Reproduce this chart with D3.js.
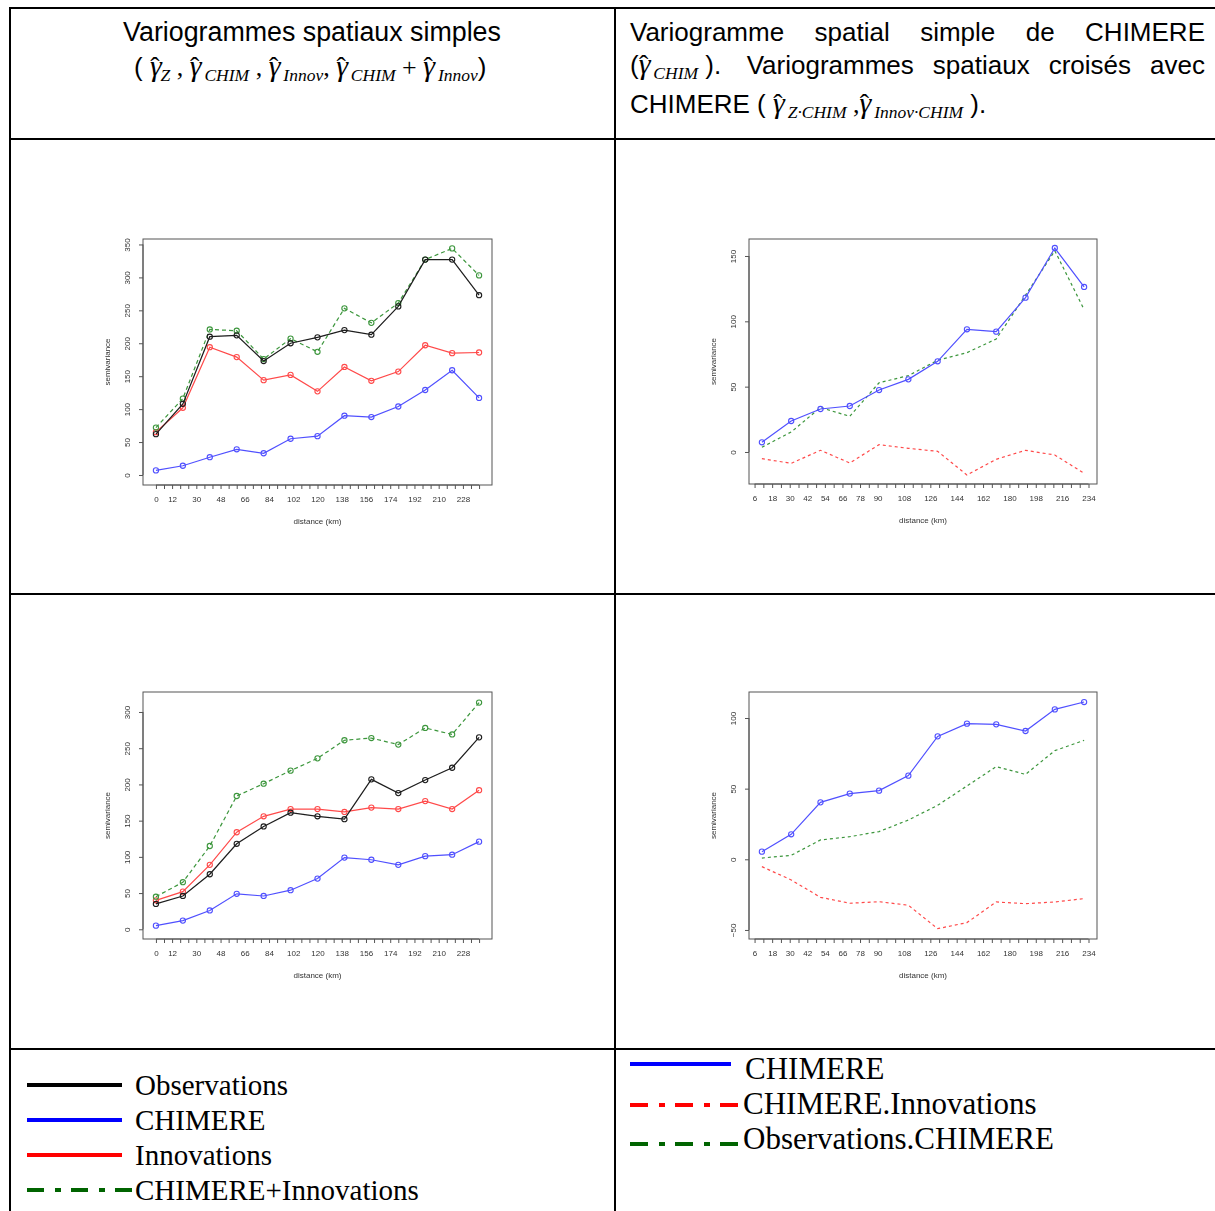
<!DOCTYPE html>
<html>
<head>
<meta charset="utf-8">
<script src="https://cdn.jsdelivr.net/npm/d3@7"></script>
<style>
  body { margin: 0; background: #fff; }
  svg { display: block; }
</style>
</head>
<body>
<svg id="page" width="1215" height="1211"></svg>
<script>
// ---- lag distances (km) ----
const lagsSimple = [0, 20, 40, 60, 80, 100, 120, 140, 160, 180, 200, 220, 240];
const lagsCross  = [11, 31, 51, 71, 91, 111, 131, 151, 171, 191, 211, 231];

// ---- panel A: simple variograms (first period) ----
const obsA   = [62, 108, 210, 212, 173, 200, 209, 220, 213, 256, 327, 327, 273];
const chimA  = [7, 14, 27, 39, 33, 55, 59, 90, 88, 104, 129, 159, 117];
const innovA = [65, 102, 194, 179, 144, 152, 127, 164, 143, 157, 197, 185, 186];
const sumA   = [72, 116, 221, 219, 176, 207, 187, 253, 231, 261, 327, 344, 303];

// ---- panel B: CHIMERE variogram and cross variograms (first period) ----
const chimB       = [7.4, 23.7, 32.9, 35.2, 47.4, 55.6, 69.4, 93.9, 92.1, 118.1, 156.1, 126.3];
const chimInnovB  = [-5.1, -8.7, 1.3, -8.4, 5.6, 2.8, 0.5, -17.6, -5.6, 1.3, -2.3, -16.3];
const obsChimB    = [3.6, 15.3, 34, 27.3, 53, 58.4, 70.2, 76, 86.5, 120, 154, 109];

// ---- panel C: simple variograms (second period) ----
const obsC   = [35, 46, 76, 118, 142, 161, 156, 152, 207, 188, 206, 223, 265];
const chimC  = [5, 12, 26, 49, 46, 54, 70, 99, 96, 89, 101, 103, 121];
const innovC = [40, 52, 89, 134, 156, 166, 166, 162, 168, 166, 177, 166, 192];
const sumC   = [45, 65, 115, 184, 201, 219, 236, 261, 264, 255, 278, 269, 313];

// ---- panel D: CHIMERE variogram and cross variograms (second period) ----
const chimD      = [5.4, 17.7, 40.3, 46.5, 48.6, 59.2, 87, 96, 95.5, 90.8, 106.1, 111.3];
const chimInnovD = [-5.2, -14.6, -26.9, -31.1, -30, -32.5, -49.1, -44.8, -30.2, -31.4, -30.2, -27.8];
const obsChimD   = [0.9, 2.8, 13.7, 16, 19.6, 27.8, 38.2, 51.9, 65.6, 60.1, 76.9, 84.2];

// ---- axis labels ----
const xLabelsSimple = [0, 12, 30, 48, 66, 84, 102, 120, 138, 156, 174, 192, 210, 228];
const xLabelsCross  = [6, 18, 30, 42, 54, 66, 78, 90, 108, 126, 144, 162, 180, 198, 216, 234];
const yTicksA = [0, 50, 100, 150, 200, 250, 300, 350];
const yTicksB = [0, 50, 100, 150];
const yTicksC = [0, 50, 100, 150, 200, 250, 300];
const yTicksD = [-50, 0, 50, 100];

const svg = d3.select("#page");
const SANS = "'Liberation Sans', Arial, Helvetica, sans-serif";
const SERIF = "'Liberation Serif', 'Times New Roman', serif";

// soft rendering for the small embedded plots
const defs = svg.append("defs");
defs.append("filter").attr("id", "soft")
  .attr("x", "-5%").attr("y", "-5%").attr("width", "110%").attr("height", "110%")
  .append("feGaussianBlur").attr("stdDeviation", 0.35);

// ---- table grid ----
const grid = svg.append("g").attr("stroke", "#000").attr("stroke-width", 2);
[8, 139, 594, 1049].forEach(yy =>
  grid.append("line").attr("x1", 9).attr("x2", 1215).attr("y1", yy).attr("y2", yy));
[10, 615].forEach(xx =>
  grid.append("line").attr("x1", xx).attr("x2", xx).attr("y1", 7).attr("y2", 1211));

// ---- rich text helpers (hat-gamma with subscripts) ----
function buildPieces(textSel, pieces) {
  let shift = 0;
  pieces.flat().forEach(p => {
    const target = p.sub ? 5 : 0;
    const ts = textSel.append("tspan")
      .attr("font-family", p.serif ? SERIF : SANS)
      .attr("font-style", p.it ? "italic" : "normal")
      .attr("font-size", p.size || 26)
      .text(p.t);
    if (p.dx) ts.attr("dx", p.dx);
    if (target !== shift) { ts.attr("dy", target - shift); shift = target; }
  });
}
const sans = t => ({ t });
// gamma followed by a circumflex pulled back over it
const gam = () => [
  { t: "\u03B3", serif: true, it: true, size: 30 },
  { t: "\u02C6", serif: true, size: 28, dx: -11.5 }
];
const sub = (t, dx = 5) => ({ t, serif: true, it: true, size: 17.5, sub: true, dx });
const ser = t => ({ t, serif: true, size: 26 });

function justifyLine(words, x0, x1, y) {
  const nodes = words.map(w => {
    const t = svg.append("text").attr("y", y).attr("fill", "#000");
    buildPieces(t, w);
    return t;
  });
  const widths = nodes.map(n => n.node().getComputedTextLength());
  const gap = (x1 - x0 - d3.sum(widths)) / (words.length - 1);
  let x = x0;
  nodes.forEach((n, i) => { n.attr("x", x); x += widths[i] + gap; });
}

// ---- header, left cell ----
svg.append("text").attr("x", 312).attr("y", 41).attr("text-anchor", "middle")
  .attr("font-family", SANS).attr("font-size", 26.8).text("Variogrammes spatiaux simples");
{
  const t = svg.append("text").attr("x", 134).attr("y", 76);
  buildPieces(t, [
    sans("( "), gam(), sub("Z", 1), ser(" , "), gam(), sub("CHIM"), ser(" , "),
    gam(), sub("Innov"), ser(", "), gam(), sub("CHIM"), ser("  +  "), gam(), sub("Innov"), sans(")")
  ]);
}

// ---- header, right cell ----
justifyLine([[sans("Variogramme")], [sans("spatial")], [sans("simple")], [sans("de")], [sans("CHIMERE")]], 630, 1205, 41);
justifyLine([[sans("("), gam(), sub("CHIM"), sans(" ).")], [sans("Variogrammes")], [sans("spatiaux")],
             [sans("crois\u00E9s")], [sans("avec")]], 630, 1205, 74);
{
  const t = svg.append("text").attr("x", 630).attr("y", 113);
  buildPieces(t, [sans("CHIMERE ( "), gam(), sub("Z\u00B7CHIM"), ser(" ,"), gam(), sub("Innov\u00B7CHIM"), sans(" ).")]);
}

// ---- series styles ----
const COL = { obs: "#1c1c1c", chim: "#5050ff", innov: "#ff4a4a", sum: "#3c963c" };

const panels = [
  {
    box: [143, 239, 492, 485], xs: lagsSimple, xDom: [-9.6, 249.6], yDom: [-15.2, 358.3],
    ticks: d3.range(0, 241, 6), xLabels: xLabelsSimple, yTicks: yTicksA,
    series: [
      { v: chimA, c: COL.chim, pts: true },
      { v: innovA, c: COL.innov, pts: true },
      { v: sumA, c: COL.sum, dash: "4,3", pts: true },
      { v: obsA, c: COL.obs, pts: true }
    ]
  },
  {
    box: [749, 239, 1097, 484], xs: lagsCross, xDom: [2.2, 239.8], yDom: [-24.5, 163],
    ticks: d3.range(6, 235, 6), xLabels: xLabelsCross, yTicks: yTicksB,
    series: [
      { v: chimInnovB, c: COL.innov, dash: "3,3" },
      { v: obsChimB, c: COL.sum, dash: "3,3" },
      { v: chimB, c: COL.chim, pts: true }
    ]
  },
  {
    box: [143, 692, 492, 939], xs: lagsSimple, xDom: [-9.6, 249.6], yDom: [-13.4, 327.6],
    ticks: d3.range(0, 241, 6), xLabels: xLabelsSimple, yTicks: yTicksC,
    series: [
      { v: chimC, c: COL.chim, pts: true },
      { v: innovC, c: COL.innov, pts: true },
      { v: sumC, c: COL.sum, dash: "4,3", pts: true },
      { v: obsC, c: COL.obs, pts: true }
    ]
  },
  {
    box: [749, 692, 1097, 939], xs: lagsCross, xDom: [2.2, 239.8], yDom: [-56.4, 118.4],
    ticks: d3.range(6, 235, 6), xLabels: xLabelsCross, yTicks: yTicksD,
    series: [
      { v: chimInnovD, c: COL.innov, dash: "3,3" },
      { v: obsChimD, c: COL.sum, dash: "3,3" },
      { v: chimD, c: COL.chim, pts: true }
    ]
  }
];

panels.forEach(p => {
  const [x0, y0, x1, y1] = p.box;
  const x = d3.scaleLinear().domain(p.xDom).range([x0, x1]);
  const y = d3.scaleLinear().domain(p.yDom).range([y1, y0]);
  const g = svg.append("g").attr("filter", "url(#soft)");

  // x axis
  const labelSet = new Set(p.xLabels);
  const gx = g.append("g").attr("transform", `translate(0,${y1})`)
    .call(d3.axisBottom(x).tickValues(p.ticks).tickSize(4).tickPadding(7)
      .tickFormat(d => labelSet.has(d) ? d : ""));
  gx.select(".domain").remove();
  gx.append("line").attr("x1", x(p.ticks[0])).attr("x2", x(p.ticks[p.ticks.length - 1]))
    .attr("stroke", "#555");
  gx.selectAll(".tick line").attr("stroke", "#555");
  gx.selectAll(".tick text").attr("fill", "#333").attr("font-size", 8).attr("font-family", SANS);

  // y axis with rotated labels
  const gy = g.append("g").attr("transform", `translate(${x0},0)`)
    .call(d3.axisLeft(y).tickValues(p.yTicks).tickSize(4).tickPadding(6));
  gy.select(".domain").remove();
  gy.append("line").attr("y1", y(p.yTicks[0])).attr("y2", y(p.yTicks[p.yTicks.length - 1]))
    .attr("stroke", "#555");
  gy.selectAll(".tick line").attr("stroke", "#555");
  gy.selectAll(".tick text").attr("fill", "#333").attr("font-size", 8).attr("font-family", SANS)
    .attr("text-anchor", "middle").attr("dy", 0)
    .attr("transform", "translate(-13,0) rotate(-90)").attr("x", 0).attr("y", 0);

  // frame
  g.append("rect").attr("x", x0).attr("y", y0).attr("width", x1 - x0).attr("height", y1 - y0)
    .attr("fill", "none").attr("stroke", "#555").attr("stroke-width", 1);

  // axis titles
  g.append("text").attr("x", (x0 + x1) / 2).attr("y", y1 + 39).attr("text-anchor", "middle")
    .attr("font-family", SANS).attr("font-size", 8).attr("fill", "#333").text("distance (km)");
  g.append("text").attr("transform", `translate(${x0 - 33},${(y0 + y1) / 2}) rotate(-90)`)
    .attr("text-anchor", "middle").attr("font-family", SANS).attr("font-size", 8)
    .attr("fill", "#333").text("semivariance");

  // series
  const line = d3.line().x((d, i) => x(p.xs[i])).y(d => y(d));
  p.series.forEach(s => {
    g.append("path").datum(s.v).attr("d", line).attr("fill", "none")
      .attr("stroke", s.c).attr("stroke-width", 1.2)
      .attr("stroke-dasharray", s.dash || null);
    if (s.pts) {
      g.append("g").selectAll("circle").data(s.v).join("circle")
        .attr("cx", (d, i) => x(p.xs[i])).attr("cy", d => y(d)).attr("r", 2.6)
        .attr("fill", "none").attr("stroke", s.c).attr("stroke-width", 1.1);
    }
  });
});

// ---- legends ----
const legendLeft = [
  { label: "Observations", c: "#000", y: 1085 },
  { label: "CHIMERE", c: "#0000ff", y: 1120 },
  { label: "Innovations", c: "#ff0000", y: 1155 },
  { label: "CHIMERE+Innovations", c: "#006400", y: 1190, dash: "17,11,6,10", x2: 134 }
];
const legendRight = [
  { label: "CHIMERE", c: "#0000ff", y: 1064, x2: 731, tx: 745, ty: 1079 },
  { label: "CHIMERE.Innovations", c: "#ff0000", y: 1105, dash: "18,11,6,10", x2: 741, tx: 743, ty: 1114 },
  { label: "Observations.CHIMERE", c: "#006400", y: 1144, dash: "18,11,6,10", x2: 741, tx: 743, ty: 1149 }
];
legendLeft.forEach(d => {
  svg.append("line").attr("x1", 27).attr("x2", d.x2 || 122).attr("y1", d.y).attr("y2", d.y)
    .attr("stroke", d.c).attr("stroke-width", 4).attr("stroke-dasharray", d.dash || null);
  svg.append("text").attr("x", 135).attr("y", d.y + 10).attr("font-family", SERIF)
    .attr("font-size", 29).attr("fill", "#000").text(d.label);
});
legendRight.forEach(d => {
  svg.append("line").attr("x1", 630).attr("x2", d.x2).attr("y1", d.y).attr("y2", d.y)
    .attr("stroke", d.c).attr("stroke-width", 4).attr("stroke-dasharray", d.dash || null);
  svg.append("text").attr("x", d.tx).attr("y", d.ty).attr("font-family", SERIF)
    .attr("font-size", 31).attr("fill", "#000").text(d.label);
});
</script>
</body>
</html>
